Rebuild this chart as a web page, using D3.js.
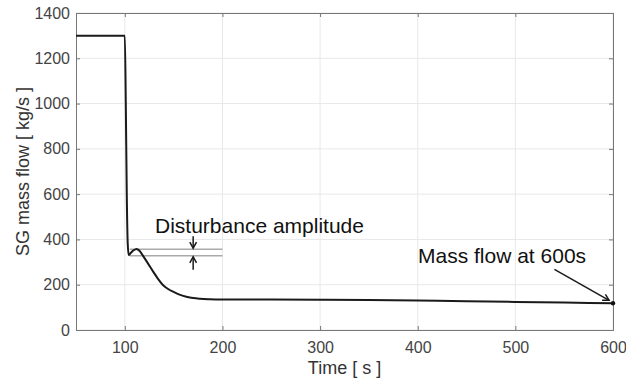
<!DOCTYPE html>
<html>
<head>
<meta charset="utf-8">
<script src="https://cdn.jsdelivr.net/npm/d3@7"></script>
<style>
  body { margin: 0; background: #fff; }
  svg { font-family: "Liberation Sans", Arial, sans-serif; }
</style>
</head>
<body>
<div id="container"></div>
<script>
// time [s] and SG mass flow [kg/s]
const times = [50, 99, 100, 101, 102, 103, 104, 106, 109, 112, 115, 119, 124, 129, 134, 139, 144, 150, 156, 163, 170, 177, 187, 200, 250, 300, 350, 400, 450, 500, 550, 600];
const flows = [1300, 1300, 1300, 1000, 600, 380, 331, 340, 352, 358, 350, 325, 292, 258, 226, 199, 182, 168, 156, 147, 141, 138, 136, 135, 134.5, 134, 132, 130, 127, 124, 121, 118];
const xTicks = [100, 200, 300, 400, 500, 600];
const yTicks = [0, 200, 400, 600, 800, 1000, 1200, 1400];
const disturbance = { t0: 105, t1: 200, tArrow: 170, high: 357, low: 328 };
const endPoint = { t: 600, v: 118 };

const width = 626, height = 379;
const margin = { top: 13, right: 13, bottom: 49, left: 76 };

const svg = d3.select('#container').append('svg')
  .attr('width', width).attr('height', height);

const x = d3.scaleLinear().domain([50, 600]).range([margin.left, width - margin.right]);
const y = d3.scaleLinear().domain([0, 1400]).range([height - margin.bottom, margin.top]);

// grid
svg.append('g').selectAll('line').data(xTicks).join('line')
  .attr('x1', d => x(d)).attr('x2', d => x(d))
  .attr('y1', y(0)).attr('y2', y(1400))
  .attr('stroke', '#e8e8e8').attr('stroke-width', 1);
svg.append('g').selectAll('line').data(yTicks).join('line')
  .attr('x1', x(50)).attr('x2', x(600))
  .attr('y1', d => y(d)).attr('y2', d => y(d))
  .attr('stroke', '#e8e8e8').attr('stroke-width', 1);

// axes (box with inward ticks)
svg.append('g')
  .attr('transform', `translate(0,${y(0)})`)
  .call(d3.axisBottom(x).tickValues(xTicks).tickSize(-4).tickPadding(12).tickFormat(d3.format('d')));
svg.append('g')
  .attr('transform', `translate(${x(50)},0)`)
  .call(d3.axisLeft(y).tickValues(yTicks).tickSize(-4).tickPadding(6).tickFormat(d3.format('d')));
svg.append('g').attr('transform', `translate(0,${y(1400)})`)
  .call(d3.axisTop(x).tickValues(xTicks).tickSize(-4).tickFormat(''));
svg.append('g').attr('transform', `translate(${x(600)},0)`)
  .call(d3.axisRight(y).tickValues(yTicks).tickSize(-4).tickFormat(''));
svg.selectAll('.domain').attr('stroke', '#777');
svg.selectAll('.tick line').attr('stroke', '#777');
svg.selectAll('.tick text').attr('fill', '#444').attr('font-size', 16)
  .attr('font-family', '"Liberation Sans", Arial, sans-serif');

// axis labels
svg.append('text')
  .attr('x', (x(50) + x(600)) / 2).attr('y', 374)
  .attr('text-anchor', 'middle').attr('font-size', 18).attr('fill', '#333')
  .text('Time [ s ]');
svg.append('text')
  .attr('transform', `translate(29,${(y(0) + y(1400)) / 2}) rotate(-90)`)
  .attr('text-anchor', 'middle').attr('font-size', 18).attr('fill', '#333')
  .text('SG mass flow [ kg/s ]');

// disturbance amplitude reference lines
svg.append('g').selectAll('line').data([disturbance.high, disturbance.low]).join('line')
  .attr('x1', x(disturbance.t0)).attr('x2', x(disturbance.t1))
  .attr('y1', d => y(d)).attr('y2', d => y(d))
  .attr('stroke', '#aaa').attr('stroke-width', 1.5);

// main curve
const line = d3.line()
  .x((d, i) => x(times[i]))
  .y(d => y(d))
  .curve(d3.curveMonotoneX);
svg.append('path').datum(flows)
  .attr('d', line)
  .attr('fill', 'none').attr('stroke', '#1a1a1a').attr('stroke-width', 2);

// arrows
const ax = x(disturbance.tArrow);
const arrow = (x1, y1, x2, y2) => {
  const g = svg.append('g').attr('stroke', '#1a1a1a').attr('stroke-width', 1.5).attr('fill', 'none');
  g.append('line').attr('x1', x1).attr('y1', y1).attr('x2', x2).attr('y2', y2);
  const ang = Math.atan2(y2 - y1, x2 - x1);
  const len = 7, spread = 0.5;
  g.append('path').attr('d',
    `M${x2 - len * Math.cos(ang - spread)},${y2 - len * Math.sin(ang - spread)} L${x2},${y2} L${x2 - len * Math.cos(ang + spread)},${y2 - len * Math.sin(ang + spread)}`);
};
arrow(ax, y(disturbance.high) - 13, ax, y(disturbance.high) - 1);
arrow(ax, y(disturbance.low) + 14, ax, y(disturbance.low) + 1);
arrow(x(540), y(endPoint.v) - 34, x(596), y(endPoint.v) - 3);

// end point marker
svg.append('circle')
  .attr('cx', x(endPoint.t)).attr('cy', y(endPoint.v)).attr('r', 2.2)
  .attr('fill', '#111');

// annotations
svg.append('text').attr('x', 155).attr('y', 233)
  .attr('font-size', 21).attr('fill', '#111')
  .text('Disturbance amplitude');
svg.append('text').attr('x', 418).attr('y', 263)
  .attr('font-size', 21).attr('fill', '#111')
  .text('Mass flow at 600s');
</script>
</body>
</html>
